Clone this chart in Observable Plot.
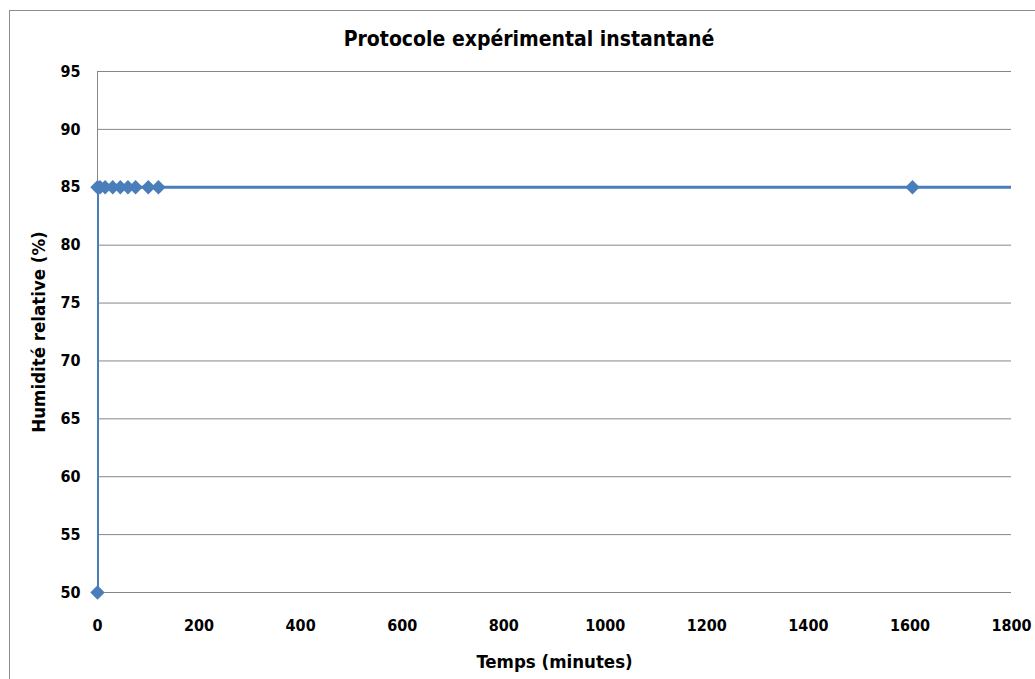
<!DOCTYPE html>
<html>
<head>
<meta charset="utf-8">
<script src="https://cdn.jsdelivr.net/npm/d3@7"></script>
<script src="https://cdn.jsdelivr.net/npm/@observablehq/plot@0.6"></script>
<style>
  html, body { margin: 0; padding: 0; background: #fff; }
  #wrap { position: relative; width: 1035px; height: 679px; overflow: hidden;
          font-family: "Liberation Sans Narrow", "DejaVu Sans Condensed", "Liberation Sans", sans-serif; }
  #frame { position: absolute; left: 9px; top: 10px; width: 1100px; height: 700px;
           border: 1px solid #8c8c8c; box-sizing: border-box; }
  #title { position: absolute; left: 0; width: 1058px; top: 27px; text-align: center;
           font-weight: bold; font-size: 21px; color: #000; }
  #chart { position: absolute; left: 0; top: 0; }
  g[aria-label="x-axis label"], g[aria-label="y-axis label"] { font-size: 18.5px; }
</style>
</head>
<body>
<div id="wrap">
  <div id="frame"></div>
  <div id="title">Protocole expérimental instantané</div>
  <div id="chart"></div>
</div>
<script>
const timeMinutes = [0, 0, 5, 15, 30, 45, 60, 75, 100, 120, 1605, 2880];
const humidity    = [50, 85, 85, 85, 85, 85, 85, 85, 85, 85, 85, 85];
const xTicks = [0, 200, 400, 600, 800, 1000, 1200, 1400, 1600, 1800];
const yTicks = [50, 55, 60, 65, 70, 75, 80, 85, 90, 95];

const data = timeMinutes.map((t, i) => ({t, h: humidity[i]}));
const blue = "#4a7ebb";
const font = '"Liberation Sans Narrow", "DejaVu Sans Condensed", "Liberation Sans", sans-serif';

const plot = Plot.plot({
  width: 1035,
  height: 679,
  marginLeft: 97,
  marginRight: 24,
  marginTop: 71,
  marginBottom: 87,
  style: {fontFamily: font, fontSize: "16px", fontWeight: "bold", color: "#000", background: "transparent"},
  x: {domain: [0, 1800]},
  y: {domain: [50, 95]},
  marks: [
    Plot.gridY(yTicks, {stroke: "#868686", strokeOpacity: 1, strokeWidth: 1}),
    Plot.axisX({ticks: xTicks, tickSize: 0, tickPadding: 27, tickFormat: d => String(d), label: "Temps (minutes)", labelAnchor: "center", labelOffset: 75, labelArrow: "none", fontSize: 16}),
    Plot.axisY({ticks: yTicks, tickSize: 0, tickPadding: 17, tickFormat: d => String(d), label: "Humidité relative (%)", labelAnchor: "center", labelOffset: 66, labelArrow: "none", fontSize: 16}),
    Plot.ruleX([0], {stroke: "#868686", strokeWidth: 1}),
    Plot.ruleY([50], {stroke: "#868686", strokeWidth: 1}),
    Plot.line(data, {x: "t", y: "h", stroke: blue, strokeWidth: 3, clip: true}),
    Plot.dot(data.filter(d => d.t <= 1800), {x: "t", y: "h", symbol: "diamond2", r: 6.5, fill: blue, stroke: "none"})
  ]
});
document.getElementById("chart").appendChild(plot);
</script>
</body>
</html>
